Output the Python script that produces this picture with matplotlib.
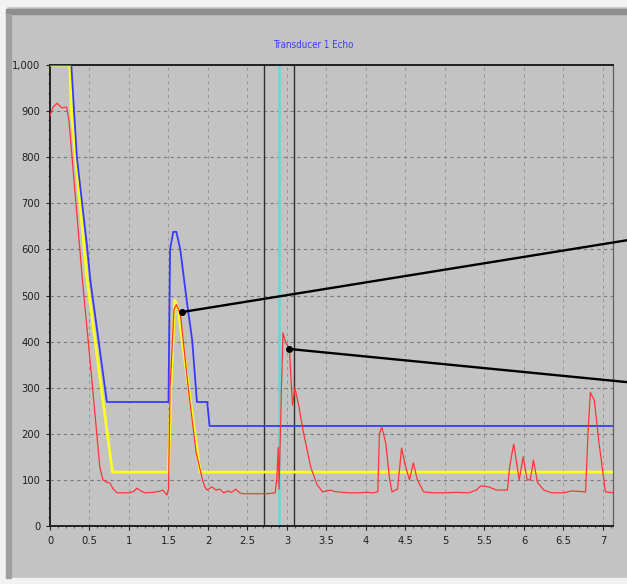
import matplotlib
matplotlib.use("Agg")
import matplotlib.pyplot as plt
from matplotlib.ticker import MultipleLocator, FuncFormatter
from matplotlib.patches import Rectangle

# ---- data ----
red_x = [0, 0.04, 0.09, 0.15, 0.21, 0.24, 0.41, 0.53, 0.63, 0.67, 0.72, 0.76, 0.8, 0.85, 1.01, 1.06,
         1.1, 1.15, 1.2, 1.3, 1.38, 1.43, 1.48, 1.5, 1.52, 1.57, 1.6, 1.65, 1.75, 1.85, 1.93, 1.96,
         1.99, 2.05, 2.1, 2.15, 2.2, 2.25, 2.3, 2.35, 2.4, 2.45, 2.55, 2.65, 2.75, 2.85, 2.87, 2.89,
         2.9, 2.93, 2.95, 2.98, 3.03, 3.07, 3.1, 3.15, 3.2, 3.3, 3.38, 3.45, 3.55, 3.6, 3.7, 3.8,
         3.9, 4.0, 4.1, 4.15, 4.17, 4.2, 4.25, 4.3, 4.33, 4.4, 4.45, 4.5, 4.55, 4.6, 4.65, 4.73,
         4.85, 5.0, 5.15, 5.3, 5.4, 5.45, 5.55, 5.65, 5.79, 5.82, 5.87, 5.94, 5.99, 6.04, 6.08, 6.12,
         6.17, 6.25, 6.35, 6.5, 6.6, 6.7, 6.78, 6.81, 6.84, 6.89, 6.95, 7.0, 7.03, 7.13]
red_y = [890, 909, 917, 907, 909, 880, 534, 317, 128, 100, 95, 93, 80, 72, 72, 75,
         82, 76, 72, 73, 75, 78, 67, 80, 300, 470, 480, 460, 300, 160, 100, 85,
         78, 85, 78, 80, 72, 76, 73, 80, 72, 70, 70, 70, 70, 72, 100, 171,
         80, 300, 419, 400, 384, 262, 300, 260, 210, 128, 90, 74, 78, 75, 73, 72,
         72, 73, 72, 75, 200, 215, 180, 100, 74, 80, 169, 130, 100, 137, 100, 74,
         72, 72, 73, 72, 78, 87, 85, 78, 78, 130, 178, 100, 150, 100, 100, 143,
         95, 78, 72, 72, 76, 75, 74, 200, 290, 273, 180, 115, 74, 72]

blue_x = [0, 0.27, 0.34, 0.47, 0.51, 0.72, 1.5, 1.52, 1.56, 1.6, 1.65, 1.73, 1.8, 1.86, 1.99, 2.02, 7.13]
blue_y = [1000, 1000, 800, 605, 534, 269, 269, 600, 638, 638, 599, 490, 403, 269, 269, 217, 217]

yellow_x = [0, 0.25, 0.27, 0.47, 0.79, 1.5, 1.53, 1.58, 1.62, 1.9, 7.13]
yellow_y = [1000, 1000, 900, 534, 117, 117, 300, 490, 470, 117, 117]

cursor_black = [2.71, 3.09]
cursor_cyan = [2.9]

ann_start_x = [1.67, 3.03]
ann_start_y = [464, 384]
ann_end_x = [7.31, 7.31]
ann_end_y = [620, 312]

title = "Transducer 1 Echo"

# ---- figure ----
W, H = 627, 584
fig = plt.figure(figsize=(W / 100, H / 100), dpi=100)
bg = "#c3c3c3"
fig.patch.set_facecolor(bg)

# outer panel decorations
fig.patches.append(Rectangle((0, 1 - 6 / H), 1, 6 / H, transform=fig.transFigure, color="#f2f2f2", zorder=0))
fig.patches.append(Rectangle((0, 0), 1, 6 / H, transform=fig.transFigure, color="#f2f2f2", zorder=0))
fig.patches.append(Rectangle((0, 0), 6 / W, 1, transform=fig.transFigure, color="#f2f2f2", zorder=0))
fig.patches.append(Rectangle((6 / W, 1 - 14 / H), 1, 5 / H, transform=fig.transFigure, color="#8e8e8e", zorder=0))
fig.patches.append(Rectangle((6 / W, 6 / H), 5 / W, 1 - 20 / H, transform=fig.transFigure, color="#a0a0a0", zorder=0))

ax = fig.add_axes([50 / W, 58 / H, 563 / W, 461 / H])
ax.set_facecolor(bg)

ax.set_xlim(0, 7.127)
ax.set_ylim(0, 1000)

ax.grid(True, which="major", axis="y", color="#7a7a7a", linestyle=(0, (3, 3)), linewidth=0.8)
ax.grid(True, which="major", axis="x", color="#939393", linestyle=(0, (3, 4)), linewidth=0.7)
ax.set_axisbelow(True)

for xv in cursor_black:
    ax.axvline(xv, color="#303030", linewidth=1.0, zorder=2)
for xv in cursor_cyan:
    ax.axvline(xv, color="#5cdcdc", linewidth=1.8, zorder=2)

ax.plot(yellow_x, yellow_y, color="#ffff20", linewidth=2.0, zorder=3)
ax.plot(blue_x, blue_y, color="#3a3aff", linewidth=1.3, zorder=4)
ax.plot(red_x, red_y, color="#ff3535", linewidth=0.9, zorder=5)

for sx, sy, ex, ey in zip(ann_start_x, ann_start_y, ann_end_x, ann_end_y):
    ax.plot([sx, ex], [sy, ey], color="black", linewidth=1.7, clip_on=False, zorder=6)
    ax.plot([sx], [sy], marker="o", markersize=4, color="black", clip_on=False, zorder=7)

ax.xaxis.set_major_locator(MultipleLocator(0.5))
ax.xaxis.set_minor_locator(MultipleLocator(0.1))
ax.yaxis.set_major_locator(MultipleLocator(100))
ax.yaxis.set_minor_locator(MultipleLocator(20))

ax.xaxis.set_major_formatter(FuncFormatter(lambda v, p: ("%g" % v)))
ax.yaxis.set_major_formatter(FuncFormatter(lambda v, p: "{:,.0f}".format(v)))

ax.tick_params(axis="both", which="major", direction="out", length=3, width=0.8,
               labelsize=8, colors="#202020", pad=4)
ax.tick_params(axis="both", which="minor", direction="out", length=1.5, width=0.6, colors="#404040")
for lab in ax.get_xticklabels() + ax.get_yticklabels():
    lab.set_fontstretch("condensed")

for side in ["left", "bottom", "top", "right"]:
    ax.spines[side].set_color("#202020")
    ax.spines[side].set_linewidth(1.4)
ax.spines["right"].set_linewidth(0.9)
ax.spines["right"].set_color("#606060")

fig.text(313 / W, 1 - 45 / H, title, color="#3c3cff", fontsize=7, ha="center", va="center",
         fontstretch="condensed")

fig.savefig("out.png", dpi=100, facecolor=fig.get_facecolor())
